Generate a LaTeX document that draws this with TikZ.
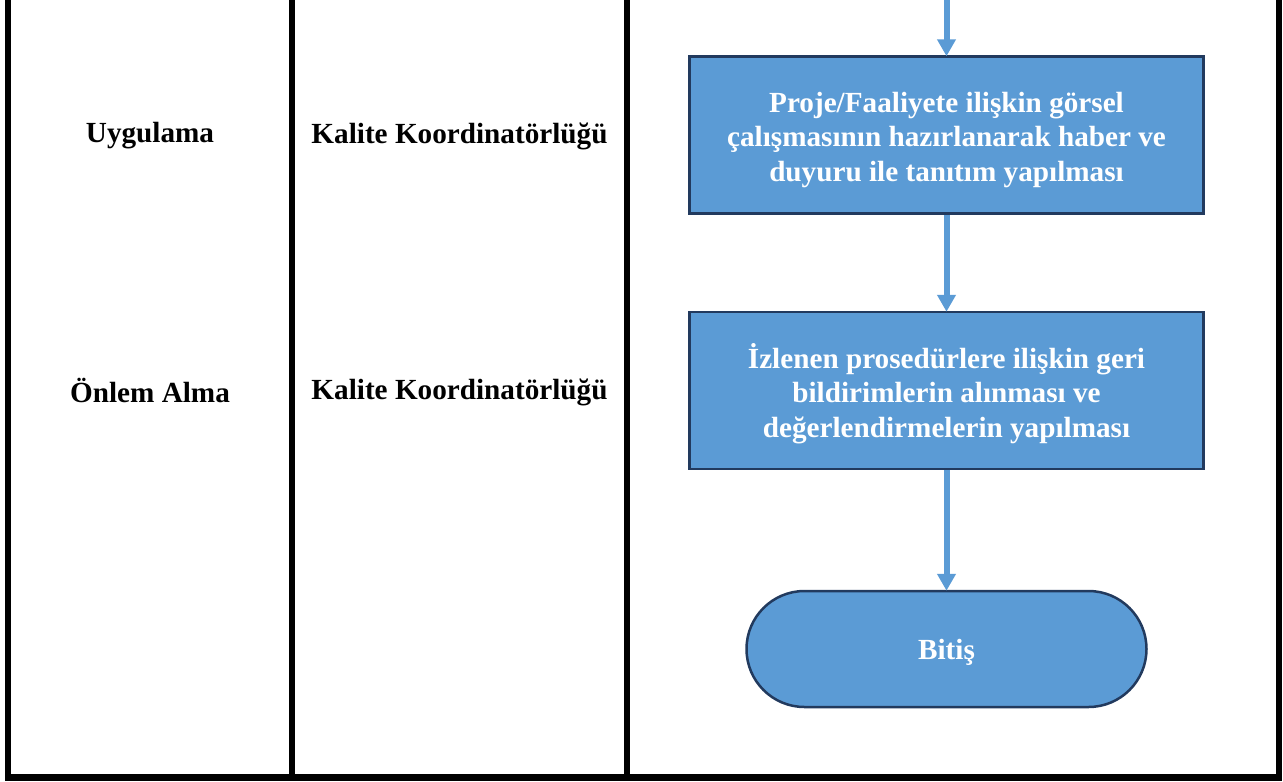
\documentclass[tikz,border=0pt]{standalone}
\usepackage{fontspec}
\setmainfont{Liberation Serif}
\usetikzlibrary{arrows.meta,shapes.misc}
\definecolor{boxblue}{HTML}{5B9BD5}
\definecolor{boxedge}{HTML}{223A5E}
\tikzset{
  lane/.style={line width=6.5pt, black},
  procbox/.style={draw=boxedge, line width=2.5pt, fill=boxblue,
    minimum width=514pt, minimum height=157pt, inner sep=0pt},
  termbox/.style={draw=boxedge, line width=2.5pt, fill=boxblue,
    rounded rectangle, minimum width=400pt, minimum height=116pt, inner sep=0pt},
  boxtext/.style={text=white, font=\fontsize{29.2}{34.6}\selectfont\bfseries, align=center, inner sep=0pt},
  lbl/.style={font=\fontsize{29.2}{34.6}\selectfont\bfseries, align=center},
  flow/.style={draw=boxblue, line width=6pt, -{Triangle[width=18pt,length=17pt]}, shorten >=-1pt},
}
\begin{document}
\begin{tikzpicture}[x=1pt,y=-1pt]
\useasboundingbox (0,0) rectangle (1283,782);
% lanes
\draw[lane] (8,0) -- (8,781);
\draw[lane] (292,0) -- (292,774);
\draw[lane] (627,0) -- (627,774);
\draw[lane] (1279,0) -- (1279,781);
\draw[lane] (5,777.5) -- (1282,777.5);
% labels
\node[lbl] (l1) at (150,136) {Uygulama};
\node[lbl] (r1) at (459.5,136) {Kalite Koordinatörlüğü};
\node[lbl] (l2) at (150,390) {Önlem Alma};
\node[lbl] (r2) at (459.5,392) {Kalite Koordinatörlüğü};
% boxes
\node[procbox, label={[boxtext, yshift=-5pt]center:{Proje/Faaliyete ilişkin görsel\\çalışmasının hazırlanarak haber ve\\duyuru ile tanıtım yapılması}}] (b1) at (946.5,135) {};
\node[procbox, label={[boxtext, yshift=-3pt]center:{İzlenen prosedürlere ilişkin geri\\bildirimlerin alınması ve\\değerlendirmelerin yapılması}}] (b2) at (946.5,390.5) {};
\node[termbox, label={[boxtext, yshift=-3pt]center:{Bitiş}}] (t) at (946.5,649) {};
\coordinate (top) at (946.5,0);
\draw[flow] (top) -- (b1.north);
\draw[flow] (b1.south) -- (b2.north);
\draw[flow] (b2.south) -- (t.north);
\end{tikzpicture}
\end{document}
